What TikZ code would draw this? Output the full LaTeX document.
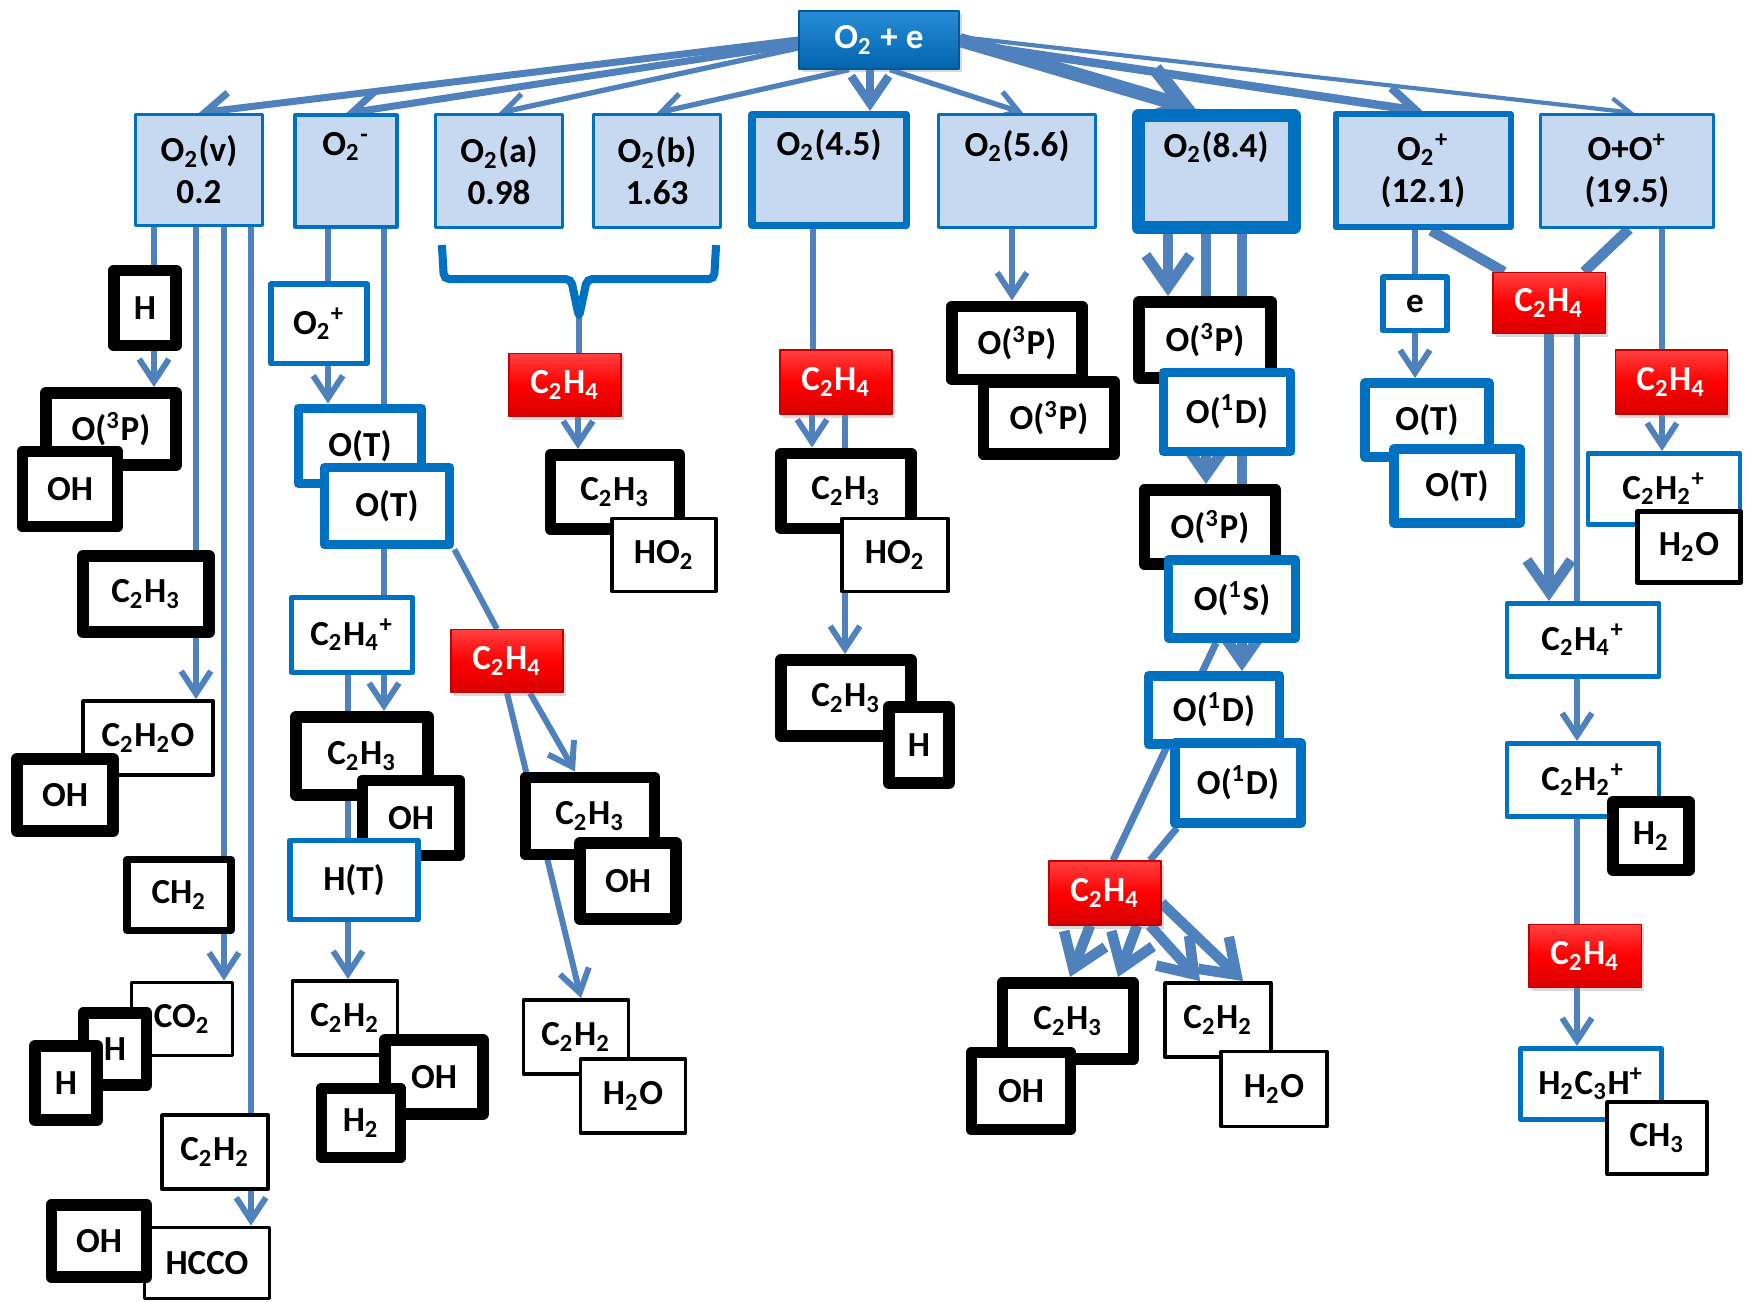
\documentclass[tikz,border=0pt]{standalone}
\usepackage{fontspec}
\setmainfont{Carlito}
\usetikzlibrary{arrows.meta, calc, shadows}
\definecolor{rxBlue}{RGB}{0,112,192}
\definecolor{rxHead}{RGB}{40,140,215}
\definecolor{rxLine}{RGB}{79,129,189}
\definecolor{rxFill}{RGB}{198,217,241}
\definecolor{rxRed}{RGB}{255,0,0}
\newlength{\px}\setlength{\px}{0.1mm}
\newcommand{\sbt}[1]{\textsubscript{#1}}
\newcommand{\spt}[1]{\textsuperscript{#1}}
\pgfdeclarelayer{links}
\pgfsetlayers{links,main}

\begin{document}
\begin{tikzpicture}[
        x=0.1mm,
        y=-0.1mm,
        sz/.style 2 args={minimum width=#1\px, minimum height=#2\px},
        species/.style={draw, fill=white, inner sep=0pt, align=center, line join=round, font=\fontsize{10}{12}\selectfont\bfseries},
        blk/.style={species, draw=black, line width=#1},
        blu/.style={species, draw=rxBlue, line width=#1},
        blkthick/.style={blk=3.4pt},
        blkmid/.style={blk=2pt},
        blkthin/.style={blk=1.1pt},
        bluthick/.style={blu=2.8pt},
        blumid/.style={blu=1.7pt},
        bluthin/.style={blu=1.4pt},
        level/.style={species, draw=rxBlue, fill=rxFill, line width=#1},
        head/.style={species, draw=rxBlue!80!black, line width=0.4pt, text=white, top color=rxHead, bottom color=rxBlue!90!black, drop shadow={shadow xshift=0.8pt, shadow yshift=-1pt, opacity=0.3}},
        reagent/.style={species, draw=red!75!black, line width=0.3pt, text=white, top color=rxRed!75!white, bottom color=rxRed!85!black, middle color=rxRed, drop shadow={shadow xshift=0.8pt, shadow yshift=-1pt, opacity=0.3}},
        link/.style={draw=rxLine, line width=#1},
        link/.default=1.7pt,
        flow/.style={link=#1, -{Straight Barb[length=3pt 2, width=3pt 3.2]}},
        flow/.default=1.7pt,
        brace/.style={draw=rxBlue, line width=2.3pt, rounded corners=1.5pt}
    ]
        \useasboundingbox (0,0) rectangle (1754,1302);

        % excited states of O2
        \node[head, sz={160}{58}] (o2e) at (879,40) {O\sbt{2} + e};
        \node[level=0.9pt, sz={127}{111}] (o2v) at (199,170) {O\sbt{2}(v)\\0.2};
        \node[level=0.9pt, sz={102}{112}] (o2m) at (346,171) {O\sbt{2}\spt{-}\\\strut};
        \node[level=0.9pt, sz={127}{113}] (o2a) at (499,171) {O\sbt{2}(a)\\0.98};
        \node[level=0.9pt, sz={127}{113}] (o2b) at (657,171) {O\sbt{2}(b)\\1.63};
        \node[level=2pt, sz={154}{111}] (o245) at (829,170) {O\sbt{2}(4.5)\\\strut};
        \node[level=0.9pt, sz={157}{113}] (o256) at (1017,171) {O\sbt{2}(5.6)\\\strut};
        \node[level=3.7pt, sz={156}{112}] (o284) at (1216,172) {O\sbt{2}(8.4)\\\strut};
        \node[level=1.7pt, sz={175}{113}] (o2p) at (1423,171) {O\sbt{2}\spt{+}\\(12.1)};
        \node[level=0.9pt, sz={173}{113}] (oop) at (1627,171) {O+O\spt{+}\\(19.5)};

        % O2(v)
        \node[blkthick, sz={62}{75}] (h1) at (145,308) {H};
        \node[blkthick, sz={130}{72}] (o3p1) at (111,429) {O(\spt{3}P)};
        \node[blkthick, sz={95}{75}] (oh1) at (70,489) {OH};
        \node[blkthick, sz={126}{76}] (c2h3a) at (146,594) {C\sbt{2}H\sbt{3}};
        \node[blkthin, sz={130}{74}] (c2h2o) at (148,738) {C\sbt{2}H\sbt{2}O};
        \node[blkthick, sz={96}{72}] (oh2) at (65,795) {OH};
        \node[blkmid, sz={104}{71}] (ch2) at (179,895) {CH\sbt{2}};
        \node[blkthin, sz={101}{73}] (co2) at (182,1019) {CO\sbt{2}};
        \node[blkthick, sz={63}{72}] (hb) at (115,1049) {H};
        \node[blkthick, sz={62}{74}] (hf) at (66,1083) {H};
        \node[blkthin, sz={106}{74}] (c2h2a) at (215,1152) {C\sbt{2}H\sbt{2}};
        \node[blkthin, sz={125}{71}] (hcco) at (207,1263) {HCCO};
        \node[blkthick, sz={95}{72}] (oh3) at (99,1241) {OH};

        % O2-
        \node[blumid, sz={96}{79}] (o2pa) at (319,324) {O\sbt{2}\spt{+}};
        \node[bluthick, sz={123}{75}] (ota) at (360,446) {O(T)};
        \node[bluthick, sz={125}{77}] (otb) at (387,506) {O(T)};
        \node[bluthin, sz={121}{75}] (c2h4pa) at (352,635) {C\sbt{2}H\sbt{4}\spt{+}};
        \node[blkthick, sz={132}{78}] (c2h3b) at (362,756) {C\sbt{2}H\sbt{3}};
        \node[blkthick, sz={97}{75}] (oh4) at (411,818) {OH};
        \node[blumid, sz={128}{79}] (ht) at (354,880) {H(T)};
        \node[blkthin, sz={105}{74}] (c2h2b) at (345,1018) {C\sbt{2}H\sbt{2}};
        \node[blkthick, sz={98}{74}] (oh5) at (434,1077) {OH};
        \node[blkthick, sz={79}{69}] (h2a) at (361,1123) {H\sbt{2}};
        \node[reagent, sz={112}{63}] (c2h4r1) at (507,661) {C\sbt{2}H\sbt{4}};
        \node[blkthick, sz={129}{77}] (c2h3c) at (590,816) {C\sbt{2}H\sbt{3}};
        \node[blkthick, sz={96}{76}] (oh6) at (628,881) {OH};
        \node[blkthin, sz={105}{74}] (c2h2c) at (576,1037) {C\sbt{2}H\sbt{2}};
        \node[blkthin, sz={105}{74}] (h2oa) at (633,1096) {H\sbt{2}O};

        % O2(a), O2(b)
        \node[reagent, sz={112}{63}] (c2h4r2) at (565,385) {C\sbt{2}H\sbt{4}};
        \node[blkthick, sz={129}{74}] (c2h3d) at (615,492) {C\sbt{2}H\sbt{3}};
        \node[blkthin, sz={104}{73}] (ho2a) at (664,555) {HO\sbt{2}};

        % O2(4.5)
        \node[reagent, sz={112}{64}] (c2h4r3) at (836,382) {C\sbt{2}H\sbt{4}};
        \node[blkthick, sz={130}{75}] (c2h3e) at (846,491) {C\sbt{2}H\sbt{3}};
        \node[blkthin, sz={106}{73}] (ho2b) at (895,555) {HO\sbt{2}};
        \node[blkthick, sz={130}{76}] (c2h3f) at (846,698) {C\sbt{2}H\sbt{3}};
        \node[blkthick, sz={60}{76}] (h3) at (919,745) {H};

        % O2(5.6)
        \node[blkthick, sz={130}{73}] (o3p2) at (1017,343) {O(\spt{3}P)};
        \node[blkthick, sz={131}{72}] (o3p3) at (1049,418) {O(\spt{3}P)};

        % O2(8.4)
        \node[blkthick, sz={132}{76}] (o3p4) at (1205,340) {O(\spt{3}P)};
        \node[bluthick, sz={127}{79}] (o1da) at (1227,412) {O(\spt{1}D)};
        \node[blkthick, sz={131}{74}] (o3p5) at (1210,527) {O(\spt{3}P)};
        \node[bluthick, sz={127}{78}] (o1s) at (1232,599) {O(\spt{1}S)};
        \node[bluthick, sz={131}{68}] (o1db) at (1214,710) {O(\spt{1}D)};
        \node[bluthick, sz={126}{80}] (o1dc) at (1238,783) {O(\spt{1}D)};
        \node[reagent, sz={112}{64}] (c2h4r4) at (1105,893) {C\sbt{2}H\sbt{4}};
        \node[blkthick, sz={131}{76}] (c2h3g) at (1068,1021) {C\sbt{2}H\sbt{3}};
        \node[blkthick, sz={99}{77}] (oh7) at (1021,1091) {OH};
        \node[blkthin, sz={106}{74}] (c2h2d) at (1218,1020) {C\sbt{2}H\sbt{2}};
        \node[blkthin, sz={106}{75}] (h2ob) at (1274,1089) {H\sbt{2}O};

        % O2+ and O+O+
        \node[blumid, sz={64}{53}] (eb) at (1415,304) {e};
        \node[bluthick, sz={124}{74}] (otc) at (1427,420) {O(T)};
        \node[bluthick, sz={126}{74}] (otd) at (1457,486) {O(T)};
        \node[reagent, sz={112}{61}] (c2h4r5) at (1549,303) {C\sbt{2}H\sbt{4}};
        \node[bluthin, sz={152}{73}] (c2h4pb) at (1583,640) {C\sbt{2}H\sbt{4}\spt{+}};
        \node[bluthin, sz={152}{73}] (c2h2pa) at (1583,780) {C\sbt{2}H\sbt{2}\spt{+}};
        \node[blkthick, sz={76}{68}] (h2b) at (1651,836) {H\sbt{2}};
        \node[reagent, sz={112}{63}] (c2h4r6) at (1585,956) {C\sbt{2}H\sbt{4}};
        \node[bluthin, sz={141}{71}] (h2c3h) at (1591,1084) {H\sbt{2}C\sbt{3}H\spt{+}};
        \node[blkthin, sz={100}{72}] (ch3) at (1657,1138) {CH\sbt{3}};
        \node[reagent, sz={112}{64}] (c2h4r7) at (1671,382) {C\sbt{2}H\sbt{4}};
        \node[bluthin, sz={152}{71}] (c2h2pb) at (1664,489) {C\sbt{2}H\sbt{2}\spt{+}};
        \node[blk=1.4pt, sz={103}{71}] (h2oc) at (1689,547) {H\sbt{2}O};

        % bracket under O2(a) and O2(b)
        \coordinate (bl) at ([xshift=8\px, yshift=-16\px]o2a.south west);
        \coordinate (br) at ([xshift=-6\px, yshift=-16\px]o2b.south east);
        \coordinate (btip) at ($(bl)!0.5!(br)+(0,72)$);
        \draw[brace] (bl) -- ($(bl)+(2,34)$) -- ($(btip)+(-8,-38)$) -- (btip) -- ($(btip)+(8,-38)$) -- ($(br)+(-2,34)$) -- (br);

        \begin{pgfonlayer}{links}
            % from O2 + e
            \draw[flow=2pt] (o2e.west) -- (o2v.north);
            \draw[flow=2pt] ([yshift=-4\px]o2e.west) -- (o2m.north);
            \draw[flow=1.5pt] ([yshift=-8\px]o2e.west) -- (o2a.north);
            \draw[flow=1.5pt] ([xshift=-30\px]o2e.south) -- (o2b.north);
            \draw[flow=2.4pt] ([xshift=-9\px]o2e.south) -- ([xshift=-9\px]o2e.south |- o245.north);
            \draw[flow=1.5pt] ([xshift=11\px]o2e.south) -- ([xshift=6\px]o256.north);
            \draw[flow=4pt] (o2e.east) -- ([xshift=-20\px]o284.north);
            \draw[flow=2.4pt] ([yshift=-3\px]o2e.east) -- (o2p.north);
            \draw[flow=1.2pt] ([yshift=3\px]o2e.east) -- ([xshift=7\px]oop.north);

            % O2(v)
            \draw[flow] ([xshift=-45\px]o2v.south) -- ([xshift=-45\px]o2v.south |- o3p1.north);
            \draw[flow] ([xshift=-3\px]o2v.south) -- ([xshift=-3\px]o2v.south |- c2h2o.north);
            \draw[flow] ([xshift=25\px]o2v.south) -- ([xshift=25\px]o2v.south |- co2.north);
            \draw[flow] ([xshift=52\px]o2v.south) -- ([xshift=52\px]o2v.south |- hcco.north);

            % O2-
            \draw[flow] ([xshift=-18\px]o2m.south) -- ([xshift=-18\px]o2m.south |- ota.north);
            \draw[flow] ([xshift=38\px]o2m.south) -- ([xshift=38\px]o2m.south |- c2h3b.north);
            \draw[flow] ([xshift=-4\px]c2h4pa.south) -- ([xshift=-4\px]c2h4pa.south |- c2h2b.north);
            \draw[link] (otb.south east) -- ([xshift=-10\px]c2h4r1.north);
            \draw[flow] ([xshift=23\px]c2h4r1.south) -- ([xshift=-15\px]c2h3c.north);
            \draw[flow] (c2h4r1.south) -- ([xshift=5\px]c2h2c.north);

            % O2(a), O2(b)
            \draw[link] (btip) -- (btip |- c2h4r2.north);
            \draw[flow] ([xshift=13\px]c2h4r2.south) -- ([xshift=13\px]c2h4r2.south |- c2h3d.north);

            % O2(4.5)
            \draw[link] ([xshift=-16\px]o245.south) -- ([xshift=-16\px]o245.south |- c2h4r3.north);
            \draw[flow] ([xshift=-24\px]c2h4r3.south) -- ([xshift=-24\px]c2h4r3.south |- c2h3e.north);
            \draw[flow] ([xshift=9\px]c2h4r3.south) -- ([xshift=9\px]c2h4r3.south |- c2h3f.north);

            % O2(5.6)
            \draw[flow] ([xshift=-5\px]o256.south) -- ([xshift=-5\px]o256.south |- o3p2.north);

            % O2(8.4)
            \draw[flow=3pt] ([xshift=-48\px]o284.south) -- ([xshift=-48\px]o284.south |- o3p4.north);
            \draw[flow=3pt] ([xshift=-10\px]o284.south) -- ([xshift=-10\px]o284.south |- o3p5.north);
            \draw[flow=3pt] ([xshift=26\px]o284.south) -- ([xshift=26\px]o284.south |- o1db.north);
            \draw[link=2pt] ([xshift=-16\px]o1s.south) -- ([xshift=8\px]c2h4r4.north);
            \draw[link=2pt] ([xshift=-61\px]o1dc.south) -- ([xshift=45\px]c2h4r4.north);
            \draw[flow=3pt] ([xshift=-15\px]c2h4r4.south) -- ([xshift=2\px]c2h3g.north);
            \draw[flow=3pt] ([xshift=32\px]c2h4r4.south) -- ([xshift=50\px]c2h3g.north);
            \draw[flow=3pt] ([xshift=45\px]c2h4r4.south) -- ([xshift=-18\px]c2h2d.north);
            \draw[flow=3pt] ([yshift=-10\px]c2h4r4.east) -- ([xshift=25\px]c2h2d.north);

            % O2+ and O+O+
            \draw[link] ([xshift=-8\px]o2p.south) -- ([xshift=-8\px]o2p.south |- eb.north);
            \draw[flow] (eb.south) -- (eb.south |- otc.north);
            \draw[link=3pt] ([xshift=8\px]o2p.south) -- ([xshift=-45\px]c2h4r5.north);
            \draw[link=3pt] ([xshift=2\px]oop.south) -- ([xshift=35\px]c2h4r5.north);
            \draw[flow=3pt] (c2h4r5.south) -- (c2h4r5.south |- c2h4pb.north);
            \draw[link] ([xshift=28\px]c2h4r5.south) -- ([xshift=28\px]c2h4r5.south |- c2h4pb.north);
            \draw[flow] ([xshift=-6\px]c2h4pb.south) -- ([xshift=-6\px]c2h4pb.south |- c2h2pa.north);
            \draw[link] ([xshift=-6\px]c2h2pa.south) -- ([xshift=-6\px]c2h2pa.south |- c2h4r6.north);
            \draw[flow] ([xshift=-8\px]c2h4r6.south) -- ([xshift=-8\px]c2h4r6.south |- h2c3h.north);
            \draw[link] ([xshift=35\px]oop.south) -- ([xshift=35\px]oop.south |- c2h4r7.north);
            \draw[flow] ([xshift=-9\px]c2h4r7.south) -- ([xshift=-9\px]c2h4r7.south |- c2h2pb.north);
        \end{pgfonlayer}
    \end{tikzpicture}
\end{document}
